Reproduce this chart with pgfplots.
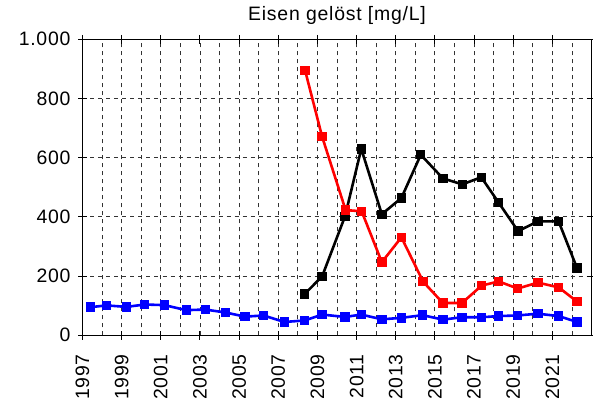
\documentclass[border=0pt]{standalone}
\usepackage{fontspec}
\setmainfont{Liberation Sans}[LetterSpace=4]
\usepackage{pgfplots}
\pgfplotsset{compat=1.18}

\begin{document}
\begin{tikzpicture}
\begin{axis}[
  at={(0,0)}, anchor=south west,
  scale only axis,
  width=509bp, height=296bp,
  xmin=1997, xmax=2023,
  ymin=0, ymax=1000,
  xtick={1997,1999,...,2021},
  minor xtick={1998,2000,...,2022},
  ytick={0,200,...,1000},
  grid=both,
  major grid style={black!80, line width=0.8bp, dash pattern=on 4bp off 4bp},
  minor grid style={black!80, line width=0.8bp, dash pattern=on 4bp off 4bp},
  axis line style={black, line width=1bp},
  tick align=center,
  major tick length=9bp,
  minor tick length=0bp,
  tick style={black, line width=1bp},
  font=\fontsize{19.5}{23}\selectfont,
  /pgf/number format/assume math mode=true,
  % rotated frame: xshift<0 moves down, yshift<0 moves right
  xticklabel style={rotate=90, anchor=east, xshift=-11bp, yshift=0bp,
    /pgf/number format/1000 sep={}},
  yticklabel style={/pgf/number format/1000 sep={.}, xshift=-4bp},
  title={Eisen gelöst [mg/L]},
  title style={at={(0.5,1)}, anchor=base, yshift=12.6bp},
  every axis plot/.append style={line width=2.6bp, mark=square*, mark size=3.4bp,
    mark options={solid}},
]
% schwarz
\addplot[black] coordinates {
(2008.34,139) (2009.24,199) (2010.41,402) (2011.24,630) (2012.29,409)
(2013.29,464) (2014.28,610) (2015.41,530) (2016.40,510) (2017.37,534)
(2018.26,448) (2019.25,352) (2020.26,385) (2021.32,385) (2022.26,227)};
% rot
\addplot[red] coordinates {
(2008.37,895) (2009.24,671) (2010.44,423) (2011.26,419) (2012.29,247)
(2013.29,331) (2014.40,181) (2015.41,109) (2016.38,109) (2017.39,168)
(2018.26,182) (2019.23,158) (2020.26,178) (2021.32,162) (2022.26,114)};
% blau
\addplot[blue] coordinates {
(1997.40,95) (1998.23,101) (1999.24,96) (2000.18,104) (2001.18,102)
(2002.30,85) (2003.27,87) (2004.31,77) (2005.30,63) (2006.25,67)
(2007.31,45) (2008.34,50) (2009.24,70) (2010.41,62) (2011.24,70)
(2012.29,54) (2013.29,59) (2014.37,68) (2015.41,53) (2016.38,61)
(2017.39,61) (2018.26,65) (2019.23,67) (2020.26,73) (2021.32,65)
(2022.26,45)};
\end{axis}
\pgfresetboundingbox
\path (-82.5bp,-64.7bp) rectangle (510.5bp,335.3bp);
\end{tikzpicture}
\end{document}
